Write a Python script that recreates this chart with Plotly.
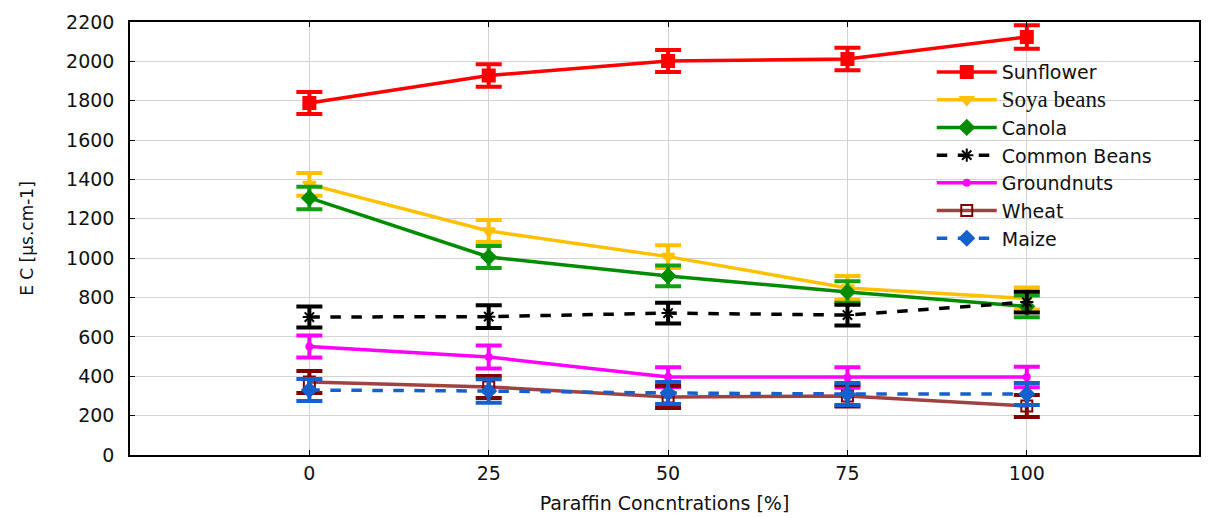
import plotly.graph_objects as go

x_vals = [0, 25, 50, 75, 100]
x_ticks = ["0", "25", "50", "75", "100"]

sunflower = [1788, 1928, 2002, 2012, 2124]
sunflower_err = [56, 57, 56, 57, 60]
soya = [1375, 1138, 1008, 849, 795]
soya_err = [58, 56, 58, 60, 56]
canola = [1306, 1006, 910, 828, 755]
canola_err = [57, 56, 53, 55, 55]
common_beans = [701, 703, 721, 711, 777]
common_beans_err = [53, 58, 53, 53, 53]
groundnuts = [551, 498, 396, 394, 396]
groundnuts_err = [56, 58, 50, 52, 52]
wheat = [371, 346, 295, 300, 249]
wheat_err = [56, 56, 56, 54, 56]
maize = [330, 325, 315, 310, 310]
maize_err = [56, 60, 56, 56, 56]

series = [
    ("Sunflower", sunflower, sunflower_err, "#FF0000", "#FF0000", "solid", "square", 12, "#FF0000"),
    ('<span style="font-family:Liberation Serif;font-size:23px">Soya beans</span>', soya, soya_err,
     "#FFC000", "#FFC000", "solid", "triangle-down", 11, "#FFC000"),
    ("Canola", canola, canola_err, "#008C00", "#12A012", "solid", "diamond", 11, "#008C00"),
    ("Common Beans", common_beans, common_beans_err, "#000000", "#000000", "dash", "asterisk-open", 11, "#000000"),
    ("Groundnuts", groundnuts, groundnuts_err, "#FF00FF", "#FF00FF", "solid", "circle", 6, "#FF00FF"),
    ("Wheat", wheat, wheat_err, "#A04242", "#800000", "solid", "square-open", 11, "#800000"),
    ("Maize", maize, maize_err, "#1560CC", "#1560CC", "dash", "diamond", 11, "#1560CC"),
]

fig = go.Figure()
for name, vals, errs, lcolor, ecolor, dash, sym, msize, mcolor in series:
    fig.add_trace(go.Scatter(
        x=x_vals, y=vals, name=name, mode="lines+markers",
        line=dict(color=lcolor, width=3.5, dash=dash),
        marker=dict(symbol=sym, size=msize, color=mcolor,
                    line=dict(color=mcolor, width=2)),
        error_y=dict(type="data", array=errs, visible=True,
                     color=ecolor, thickness=4, width=13),
    ))

fig.update_layout(
    width=1209, height=518,
    margin=dict(l=122, r=18, t=14, b=71, autoexpand=False),
    paper_bgcolor="white", plot_bgcolor="white",
    font=dict(family="DejaVu Sans", size=18, color="#111111"),
    showlegend=True,
    legend=dict(x=0.75, y=0.928, xanchor="left", yanchor="top",
                bgcolor="rgba(0,0,0,0)", font=dict(size=19),
                itemwidth=60, tracegroupgap=0, traceorder="normal"),
    xaxis=dict(
        range=[-25, 124], tickmode="array", tickvals=x_vals, ticktext=x_ticks,
        showgrid=True, gridcolor="#d3d3d3", gridwidth=1,
        showline=True, linecolor="#000000", linewidth=1.5, mirror="ticks",
        ticks="inside", ticklen=5, tickcolor="#000000", automargin=False,
        zeroline=False, tickfont=dict(size=19),
        title=dict(text="Paraffin Concntrations [%]", font=dict(size=19), standoff=14),
    ),
    yaxis=dict(
        range=[0, 2200], tickmode="linear", dtick=200,
        showgrid=True, gridcolor="#d3d3d3", gridwidth=1,
        showline=True, linecolor="#000000", linewidth=1.5, mirror="ticks",
        ticks="inside", ticklen=5, tickcolor="#000000", automargin=False,
        zeroline=False, tickfont=dict(size=19), ticklabelstandoff=10,
        title=dict(text="E C [µs.cm-1]", font=dict(size=17), standoff=28),
    ),
)

fig.write_html("out.html")
